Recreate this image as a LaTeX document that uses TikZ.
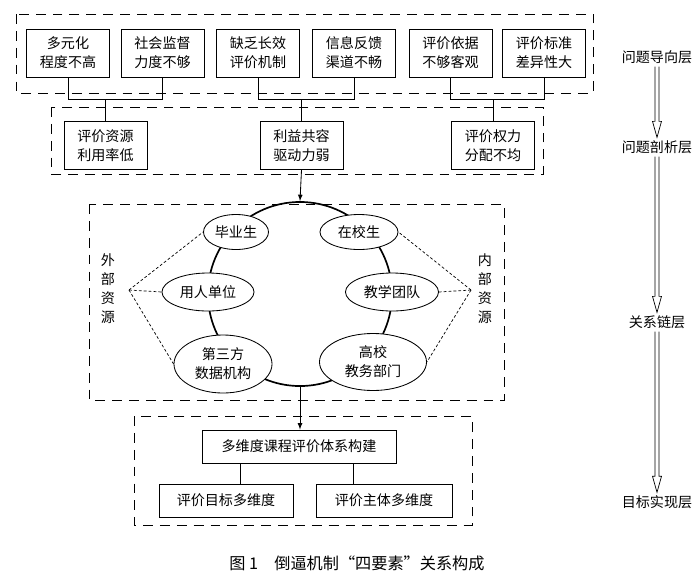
\documentclass[tikz,border=0pt]{standalone}
\usepackage{fontspec}
\setmainfont{Noto Sans CJK SC}
\usetikzlibrary{shapes.geometric,calc}

\newcommand{\hohlpfeil}[2]{%
  \draw[line width=0.5pt] ($(#1.south)+(-2,0)$) -- ($(#2.north)+(-2,-16)$) -- ($(#2.north)+(-4.5,-16)$) -- (#2.north) -- ($(#2.north)+(4.5,-16)$) -- ($(#2.north)+(2,-16)$) -- ($(#1.south)+(2,0)$);}

\begin{document}
\begin{tikzpicture}[x=0.025cm,y=-0.025cm,
  font=\fontsize{10}{13.5}\selectfont,
  kasten/.style={draw,line width=0.6pt,align=center,inner sep=0pt,minimum width=2.075cm,minimum height=1.2cm},
  flach/.style={draw,line width=0.6pt,inner sep=0pt,minimum height=0.825cm},
  oval/.style={ellipse,draw,line width=0.6pt,fill=white,align=center,inner sep=0pt},
  zone/.style={line width=0.6pt,dash pattern=on 7pt off 5pt},
  punkt/.style={line width=0.5pt,dash pattern=on 2pt off 1.5pt},
  ebene/.style={inner sep=2pt}]
\useasboundingbox (0,0) rectangle (700,575);

\draw[zone] (16,14) rectangle (593,93);
\draw[zone] (51,107) rectangle (543,174);
\draw[zone] (89,204) rectangle (504,400);
\draw[zone] (134,416) rectangle (472,525);

\node[kasten] (q1) at (68,53) {多元化\\程度不高};
\node[kasten] (q2) at (162.5,53) {社会监督\\力度不够};
\node[kasten] (q3) at (258,53) {缺乏长效\\评价机制};
\node[kasten] (q4) at (354,53) {信息反馈\\渠道不畅};
\node[kasten] (q5) at (450.5,53) {评价依据\\不够客观};
\node[kasten] (q6) at (544,53) {评价标准\\差异性大};

\node[kasten] (r1) at (105.5,145.5) {评价资源\\利用率低};
\node[kasten] (r2) at (301.5,145.5) {利益共容\\驱动力弱};
\node[kasten] (r3) at (493,145.5) {评价权力\\分配不均};

\draw[line width=0.6pt] (r1.north) -- ++(0,-22) coordinate (j1);
\draw[line width=0.6pt] (q1.south) |- (j1) -| (q2.south);
\draw[line width=0.6pt] (r2.north) -- ++(0,-22) coordinate (j2);
\draw[line width=0.6pt] (q3.south) |- (j2) -| (q4.south);
\draw[line width=0.6pt] (r3.north) -- ++(0,-22) coordinate (j3);
\draw[line width=0.6pt] (q5.south) |- (j3) -| (q6.south);

\node[circle,draw,line width=1.2pt,minimum size=4.6cm] (ring) at (300,294) {};
\draw[-latex,line width=0.6pt] (r2.south) -- (ring.north);

\node[oval,minimum width=1.625cm,minimum height=0.875cm] (biye) at (236,232) {毕业生};
\node[oval,minimum width=1.95cm,minimum height=0.875cm] (zaixiao) at (359,232) {在校生};
\node[oval,minimum width=2.3cm,minimum height=0.95cm] (yongren) at (208,292) {用人单位};
\node[oval,minimum width=2.325cm,minimum height=0.95cm] (tuandui) at (392,292) {教学团队};
\node[oval,minimum width=2.45cm,minimum height=1.45cm] (disanfang) at (223,364) {第三方\\数据机构};
\node[oval,minimum width=2.675cm,minimum height=1.425cm] (gaoxiao) at (373,362) {高校\\教务部门};

\node[align=center] (waibu) at (108,289) {外\\部\\资\\源};
\node[align=center] (neibu) at (485,289) {内\\部\\资\\源};
\coordinate (ext) at (129,290);
\coordinate (int) at (471,290);
\draw[punkt] (ext) -- (biye.west);
\draw[punkt] (ext) -- (yongren.west);
\draw[punkt] (ext) -- (disanfang.west);
\draw[punkt] (int) -- (zaixiao.east);
\draw[punkt] (int) -- (tuandui.east);
\draw[punkt] (int) -- (gaoxiao.east);

\node[flach,minimum width=4.85cm] (goal) at (299,446.5) {多维度课程评价体系构建};
\node[flach,minimum width=3.35cm] (mubiao) at (226,500.5) {评价目标多维度};
\node[flach,minimum width=3.4cm] (zhuti) at (384,500.5) {评价主体多维度};
\draw[-latex,line width=0.6pt] (ring.south) -- (goal.north -| ring.south);
\draw[line width=0.6pt] (goal.south -| 240,0) -- (mubiao.north -| 240,0);
\draw[line width=0.6pt] (goal.south -| 353,0) -- (zhuti.north -| 353,0);

\node[ebene] (l1) at (657,57) {问题导向层};
\node[ebene] (l2) at (657,147) {问题剖析层};
\node[ebene] (l3) at (657,322) {关系链层};
\node[ebene] (l4) at (657,502) {目标实现层};
\hohlpfeil{l1}{l2}
\hohlpfeil{l2}{l3}
\hohlpfeil{l3}{l4}

\node[font=\fontsize{11.5}{13}\selectfont] (titel) at (357,563) {图 1\quad 倒逼机制“四要素”关系构成};
\end{tikzpicture}
\end{document}
